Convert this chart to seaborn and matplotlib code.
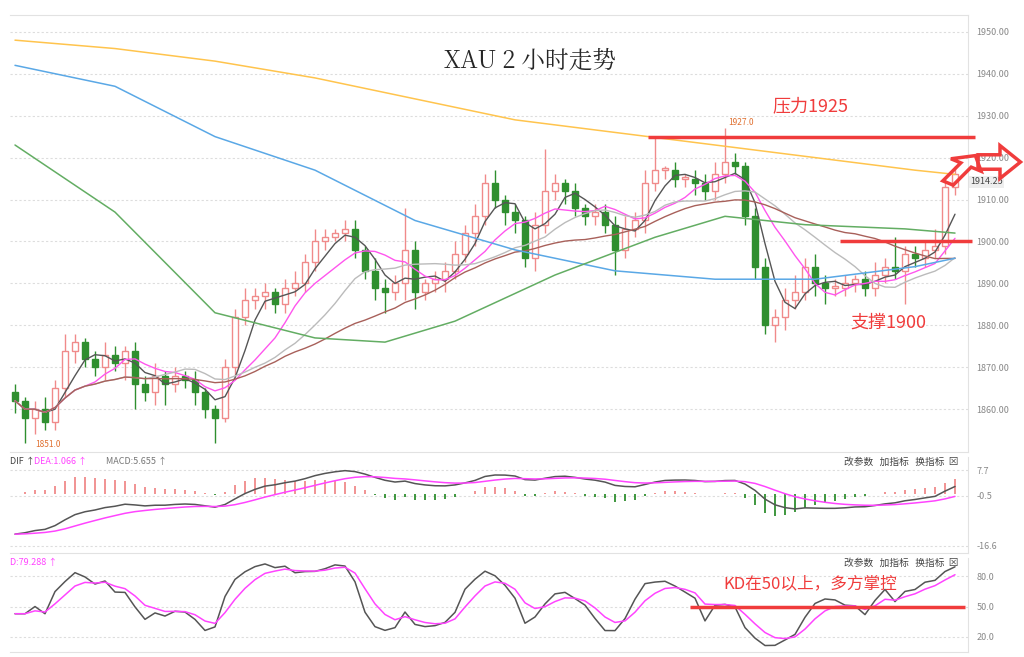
import matplotlib
matplotlib.use("Agg")
import matplotlib.pyplot as plt
from matplotlib.patches import FancyArrow
import numpy as np
import pandas as pd
import seaborn as sns

# 2-hour XAU candles (closes, wick sizes)
closes = [
    1862, 1858, 1860, 1857, 1865, 1874, 1876, 1872, 1870, 1873,
    1871, 1874, 1866, 1864, 1868, 1866, 1868, 1867, 1864, 1860,
    1858, 1870, 1882, 1886, 1887, 1888, 1885, 1889, 1890, 1895,
    1900, 1901, 1902, 1903, 1898, 1893, 1889, 1888, 1890, 1898,
    1888, 1890, 1891, 1893, 1897, 1902, 1906, 1914, 1910, 1907,
    1905, 1896, 1904, 1912, 1914, 1912, 1908, 1906, 1907, 1904,
    1898, 1903, 1905, 1914, 1917, 1917, 1915, 1915, 1914, 1912,
    1916, 1919, 1918, 1906, 1894, 1880, 1882, 1886, 1888, 1894,
    1890, 1889, 1889, 1890, 1891, 1889, 1892, 1894, 1893, 1897,
    1896, 1898, 1899, 1913, 1916,
]
upper_wick = [
    2, 1, 2, 3, 2, 4, 2, 1, 2, 3,
    2, 1, 2, 2, 3, 1, 2, 1, 2, 1,
    1, 2, 2, 3, 2, 2, 1, 2, 3, 2,
    3, 2, 1, 2, 2, 1, 3, 2, 2, 10,
    2, 1, 2, 2, 3, 2, 3, 2, 3, 1,
    2, 1, 3, 10, 2, 1, 2, 1, 2, 2,
    2, 3, 2, 3, 8, 1, 2, 1, 2, 2,
    3, 8, 2, 1, 2, 2, 2, 3, 4, 2,
    3, 2, 2, 2, 1, 2, 3, 2, 7, 2,
    2, 2, 4, 2, 2,
]
lower_wick = [
    3, 6, 4, 2, 2, 2, 3, 2, 2, 3,
    2, 4, 6, 2, 3, 5, 2, 2, 3, 2,
    6, 1, 2, 2, 2, 3, 2, 2, 2, 2,
    2, 2, 1, 2, 2, 2, 3, 5, 2, 4,
    4, 2, 2, 3, 2, 2, 3, 2, 2, 3,
    3, 2, 3, 2, 2, 3, 2, 2, 2, 2,
    6, 2, 2, 3, 2, 2, 2, 2, 3, 2,
    2, 2, 2, 2, 3, 2, 4, 3, 2, 2,
    3, 4, 2, 2, 2, 2, 2, 2, 2, 8,
    2, 2, 2, 2, 2,
]
first_open = 1864
slow_ema_seed = 1885  # level of the slow MACD average before the first candle

# long moving averages read at a few candle positions
ma_yellow_idx = [0, 10, 20, 30, 40, 50, 60, 70, 80, 90, 94]
ma_yellow = [1948, 1946, 1943, 1939, 1934, 1929, 1926, 1923, 1920, 1917, 1916]
ma_blue_idx = [0, 10, 20, 30, 40, 50, 60, 70, 80, 90, 94]
ma_blue = [1942, 1937, 1925, 1917, 1905, 1898, 1893, 1891, 1891, 1894, 1896]
ma_green_idx = [0, 10, 20, 30, 37, 44, 54, 64, 71, 79, 89, 94]
ma_green = [1923, 1907, 1883, 1877, 1876, 1881, 1892, 1901, 1906, 1904, 1903, 1902]

price_ticks = [1860, 1870, 1880, 1890, 1900, 1910, 1920, 1930, 1940, 1950]
macd_ticks = [7.7, -0.5, -16.6]
kd_ticks = [20, 50, 80]

RED = "#f03c3c"
UP = "#f08a8a"
DOWN = "#2f8f2f"
GRID = "#dddddd"

sns.set_style("white")
plt.rcParams["font.family"] = ["Noto Sans CJK SC", "DejaVu Sans"]

df = pd.DataFrame({"close": closes, "up": upper_wick, "lo": lower_wick})
df["idx"] = np.arange(len(df))
df["open"] = df["close"].shift(1).fillna(first_open)
df["high"] = df[["open", "close"]].max(axis=1) + df["up"]
df["low"] = df[["open", "close"]].min(axis=1) - df["lo"]

fig = plt.figure(figsize=(10.24, 6.57), dpi=100)
W, H = 1024, 657


def axes_px(x0, y0, x1, y1):
    return fig.add_axes([x0 / W, 1 - y1 / H, (x1 - x0) / W, (y1 - y0) / H])


ax = axes_px(10, 15, 968, 452)
ax_m = axes_px(10, 457, 968, 553)
ax_k = axes_px(10, 558, 968, 652)

# candles
for _, r in df.iterrows():
    rising = r["close"] >= r["open"]
    col = UP if rising else DOWN
    ax.vlines(r["idx"], r["low"], r["high"], color=col, lw=1, zorder=2)
    lo, hi = sorted([r["open"], r["close"]])
    ax.bar(r["idx"], max(hi - lo, 0.4), bottom=lo, width=0.62,
           facecolor="white" if rising else DOWN, edgecolor=col, lw=1, zorder=3)

# short moving averages from closes
for win, col in [(4, "#555555"), (8, "#ff55ee"), (14, "#bbbbbb"), (24, "#a8605a")]:
    ma = df["close"].rolling(win, min_periods=1).mean()
    sns.lineplot(x=df["idx"], y=ma, ax=ax, color=col, lw=1, zorder=4)
for xs, ys, col in [(ma_yellow_idx, ma_yellow, "#ffc44d"),
                    (ma_blue_idx, ma_blue, "#5aa8e6"),
                    (ma_green_idx, ma_green, "#63ad63")]:
    sns.lineplot(x=xs, y=ys, ax=ax, color=col, lw=1.1, zorder=4)

ax.set_ylim(1849.8, 1954)
ax.set_yticks(price_ticks)
ax.set_yticklabels([f"{t:.2f}" for t in price_ticks])

# resistance / support
ax.hlines(1925, 63.3, 96, color=RED, lw=2.5, zorder=6, clip_on=False)
ax.hlines(1900, 82.5, 95.7, color=RED, lw=2.5, zorder=6, clip_on=False)
ax.text(79.5, 1931, "压力1925", color=RED, fontsize=13, ha="center", zorder=7)
ax.text(87.3, 1879.5, "支撑1900", color=RED, fontsize=13, ha="center", zorder=7)
ax.text(71.3, 1927.3, "1927.0", color="#e07030", fontsize=6, va="bottom")
ax.text(2, 1850.5, "1851.0", color="#e07030", fontsize=6, va="bottom")
ax.text(95.5, 1914.2, "1914.25", color="#444444", fontsize=6.5, va="center",
        bbox=dict(fc="#eeeeee", ec="none", pad=1))
fig.text(530 / W, 1 - 60 / H, "XAU 2 小时走势", fontsize=17, ha="center",
         va="center", family=["Noto Serif CJK SC", "Noto Sans CJK SC", "DejaVu Sans"])

# MACD: fast EMA against a seeded slow EMA
fast = df["close"].ewm(span=8, adjust=False).mean()
slow = []
level = slow_ema_seed
for c in closes:
    level = level + (c - level) * 2 / 31
    slow.append(level)
dif = (fast - pd.Series(slow)) * 0.6
dea = dif.ewm(span=9, adjust=False).mean()
hist = (dif - dea) * 1.5
ax_m.vlines(df["idx"], 0, hist, colors=np.where(hist >= 0, UP, DOWN), lw=1.3)
sns.lineplot(x=df["idx"], y=dif, ax=ax_m, color="#555555", lw=1.1)
sns.lineplot(x=df["idx"], y=dea, ax=ax_m, color="#ff44ff", lw=1.1)
ax_m.set_ylim(-19, 12)
ax_m.set_yticks(macd_ticks)
ax_m.set_yticklabels([str(t) for t in macd_ticks])
ax_m.text(0.0, 1.0, "DIF ↑", transform=ax_m.transAxes, fontsize=6.5, color="#444444", va="top")
ax_m.text(0.025, 1.0, "DEA:1.066 ↑", transform=ax_m.transAxes, fontsize=6.5, color="#ff44ff", va="top")
ax_m.text(0.1, 1.0, "MACD:5.655 ↑", transform=ax_m.transAxes, fontsize=6.5, color="#777777", va="top")

# KD
lowest = df["low"].rolling(6, min_periods=1).min()
highest = df["high"].rolling(6, min_periods=1).max()
rsv = (df["close"] - lowest) / (highest - lowest) * 100
k = rsv.ewm(alpha=1 / 2, adjust=False).mean()
d = k.ewm(alpha=1 / 2.5, adjust=False).mean()
sns.lineplot(x=df["idx"], y=k, ax=ax_k, color="#555555", lw=1.1)
sns.lineplot(x=df["idx"], y=d, ax=ax_k, color="#ff44ff", lw=1.1)
ax_k.set_ylim(5, 98)
ax_k.set_yticks(kd_ticks)
ax_k.set_yticklabels([f"{t:.1f}" for t in kd_ticks])
ax_k.hlines(50, 67.5, 95, color=RED, lw=2.5, zorder=6)
ax_k.text(79.5, 73, "KD在50以上，多方掌控", color=RED, fontsize=12, ha="center", va="center")
ax_k.text(0.0, 1.0, "D:79.288 ↑", transform=ax_k.transAxes, fontsize=6.5, color="#ff44ff", va="top")

for a in (ax_m, ax_k):
    a.text(0.99, 1.0, "改参数   加指标   换指标  ⊠", transform=a.transAxes,
           fontsize=7, color="#444444", ha="right", va="top")

for a in (ax, ax_m, ax_k):
    a.yaxis.tick_right()
    a.tick_params(axis="y", labelsize=6.5, labelcolor="#888888", length=0, pad=6)
    a.set_xticks([])
    a.set_xlim(-0.5, 95.3)
    a.set_xlabel("")
    a.set_ylabel("")
    a.grid(axis="y", color=GRID, ls=(0, (2, 2)), lw=0.8)
    for s in a.spines.values():
        s.set_color("#e2e2e2")
    a.spines["left"].set_visible(False)
    a.spines["top"].set_visible(a is ax)

# hollow red arrows
fig.patches.append(FancyArrow(948 / W, 1 - 183 / H, 18 / W, 18 / H, width=0.012,
                              head_width=0.035, head_length=0.017, fill=False,
                              ec=RED, lw=2.5, transform=fig.transFigure))
fig.patches.append(FancyArrow(978 / W, 1 - 162 / H, 22 / W, 0, width=0.022,
                              head_width=0.05, head_length=0.02, fill=False,
                              ec=RED, lw=2.5, transform=fig.transFigure))

fig.savefig("out.png", dpi=100)
